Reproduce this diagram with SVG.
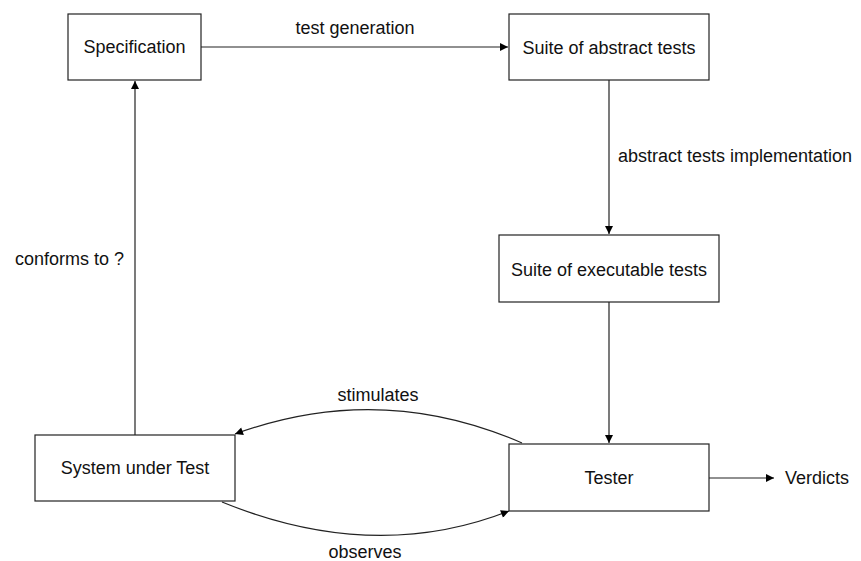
<svg xmlns="http://www.w3.org/2000/svg" width="861" height="561" viewBox="0 0 861 561">
<style>
.box{fill:#fff;stroke:#222;stroke-width:1.2}
.t{font-family:"Liberation Sans",Arial,Helvetica,sans-serif;font-size:18px;fill:#111}
.c{fill:none;stroke:#222;stroke-width:1.2}
</style>
<defs>
<marker id="ah" viewBox="0 0 10 10" refX="10" refY="5" markerWidth="10" markerHeight="8" markerUnits="userSpaceOnUse" orient="auto">
<path d="M0,0 L10,5 L0,10 z" fill="#000"/>
</marker>
</defs>
<rect width="861" height="561" fill="#fff"/>
<g id="connectors">
<line class="c" x1="201" y1="47" x2="508" y2="47" marker-end="url(#ah)"/>
<line class="c" x1="609" y1="80" x2="609" y2="234" marker-end="url(#ah)"/>
<line class="c" x1="609" y1="302" x2="609" y2="443" marker-end="url(#ah)"/>
<line class="c" x1="135" y1="435" x2="135" y2="81" marker-end="url(#ah)"/>
<line class="c" x1="709" y1="478" x2="774" y2="478" marker-end="url(#ah)"/>
<path class="c" d="M522,443 Q380,381 235,434" marker-end="url(#ah)"/>
<path class="c" d="M222,502 Q374,564 509,511" marker-end="url(#ah)"/>
<text class="t" x="355" y="34" text-anchor="middle">test generation</text>
<text class="t" x="618" y="162">abstract tests implementation</text>
<text class="t" x="124" y="265" text-anchor="end">conforms to ?</text>
<text class="t" x="378" y="401" text-anchor="middle">stimulates</text>
<text class="t" x="365" y="558" text-anchor="middle">observes</text>
<text class="t" x="785" y="484">Verdicts</text>
</g>
<g id="spec">
<rect class="box" x="68" y="14" width="133" height="66"/>
<text class="t" x="134.5" y="53" text-anchor="middle">Specification</text>
</g>
<g id="abstract">
<rect class="box" x="509" y="14" width="200" height="66"/>
<text class="t" x="609" y="54" text-anchor="middle">Suite of abstract tests</text>
</g>
<g id="executable">
<rect class="box" x="499" y="235" width="220" height="67"/>
<text class="t" x="609" y="276" text-anchor="middle">Suite of executable tests</text>
</g>
<g id="sut">
<rect class="box" x="35" y="435" width="200" height="66"/>
<text class="t" x="135" y="474" text-anchor="middle">System under Test</text>
</g>
<g id="tester">
<rect class="box" x="509" y="444" width="200" height="67"/>
<text class="t" x="609" y="484" text-anchor="middle">Tester</text>
</g>
</svg>
